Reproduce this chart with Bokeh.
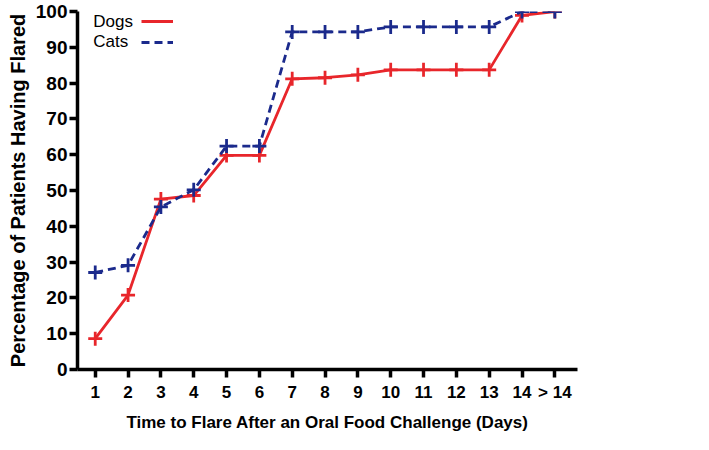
from bokeh.plotting import figure
from bokeh.models import FixedTicker, Legend, LegendItem, Label, Range1d
from bokeh.embed import file_html
from bokeh.resources import INLINE

days = [1, 2, 3, 4, 5, 6, 7, 8, 9, 10, 11, 12, 13, 14, 15]
day_labels = ["1", "2", "3", "4", "5", "6", "7", "8", "9", "10", "11", "12", "13", "14", "> 14"]
dogs = [8.6, 20.8, 47.6, 48.6, 59.8, 59.8, 81.2, 81.5, 82.3, 83.7, 83.7, 83.7, 83.7, 98.9, 100.0]
cats = [27.1, 29.1, 45.4, 50.2, 62.4, 62.4, 94.3, 94.3, 94.3, 95.7, 95.7, 95.7, 95.7, 100.0, 100.0]
y_ticks = [0, 10, 20, 30, 40, 50, 60, 70, 80, 90, 100]

RED = "#E8262B"
BLUE = "#1B2A8C"
FONT = "Liberation Sans"

p = figure(width=693, height=434, output_backend="svg", toolbar_location=None,
           x_range=Range1d(0.46, 15.69), y_range=Range1d(0, 100),
           min_border_left=77, min_border_right=116, min_border_top=11, min_border_bottom=61)
p.outline_line_color = None
p.xgrid.visible = False
p.ygrid.visible = False

dog_line = p.line(days, dogs, line_color=RED, line_width=2.8)
p.scatter(days, dogs, marker="cross", size=14, line_color=RED, line_width=2.8)
cat_line = p.line(days, cats, line_color=BLUE, line_width=2.8, line_dash="8 5")
p.scatter(days, cats, marker="cross", size=14, line_color=BLUE, line_width=2.8)

for ax in (p.xaxis, p.yaxis):
    ax.axis_line_width = 3.5
    ax.axis_line_color = "black"
    ax.major_tick_line_width = 3.5
    ax.major_tick_line_color = "black"
    ax.major_tick_out = 8
    ax.major_tick_in = 0
    ax.minor_tick_line_color = None
    ax.major_label_text_font = FONT
    ax.major_label_text_font_style = "bold"
    ax.major_label_text_color = "black"
    ax.axis_label_text_font = FONT
    ax.axis_label_text_font_style = "bold"
    ax.axis_label_text_color = "black"

p.xaxis.ticker = FixedTicker(ticks=days)
p.xaxis.major_label_overrides = {d: l for d, l in zip(days, day_labels)}
p.xaxis.major_label_text_font_size = "17px"
p.xaxis.axis_label = "Time to Flare After an Oral Food Challenge (Days)"
p.xaxis.axis_label_text_font_size = "17px"
p.xaxis.major_label_standoff = 5
p.xaxis.axis_label_standoff = 8
p.yaxis.ticker = FixedTicker(ticks=y_ticks)
p.yaxis.major_label_text_font_size = "19px"
p.yaxis.axis_label = "Percentage of Patients Having Flared"
p.yaxis.axis_label_text_font_size = "20px"
p.yaxis.major_label_standoff = 2
p.yaxis.axis_label_standoff = 4

legend = Legend(items=[LegendItem(label=" ", renderers=[dog_line]),
                       LegendItem(label=" ", renderers=[cat_line])],
                location=(64, 317), glyph_width=32, glyph_height=20,
                label_width=0, label_standoff=0, padding=0, margin=0, spacing=1,
                border_line_color=None, background_fill_alpha=0,
                label_text_font_size="1px")
p.add_layout(legend)

for txt, yy in (("Dogs", 97.3), ("Cats", 91.5)):
    p.add_layout(Label(x=0.94, y=yy, text=txt, text_font=FONT, text_font_size="17px",
                       text_baseline="middle", text_color="black"))

open("out.html", "w").write(file_html(p, INLINE))
